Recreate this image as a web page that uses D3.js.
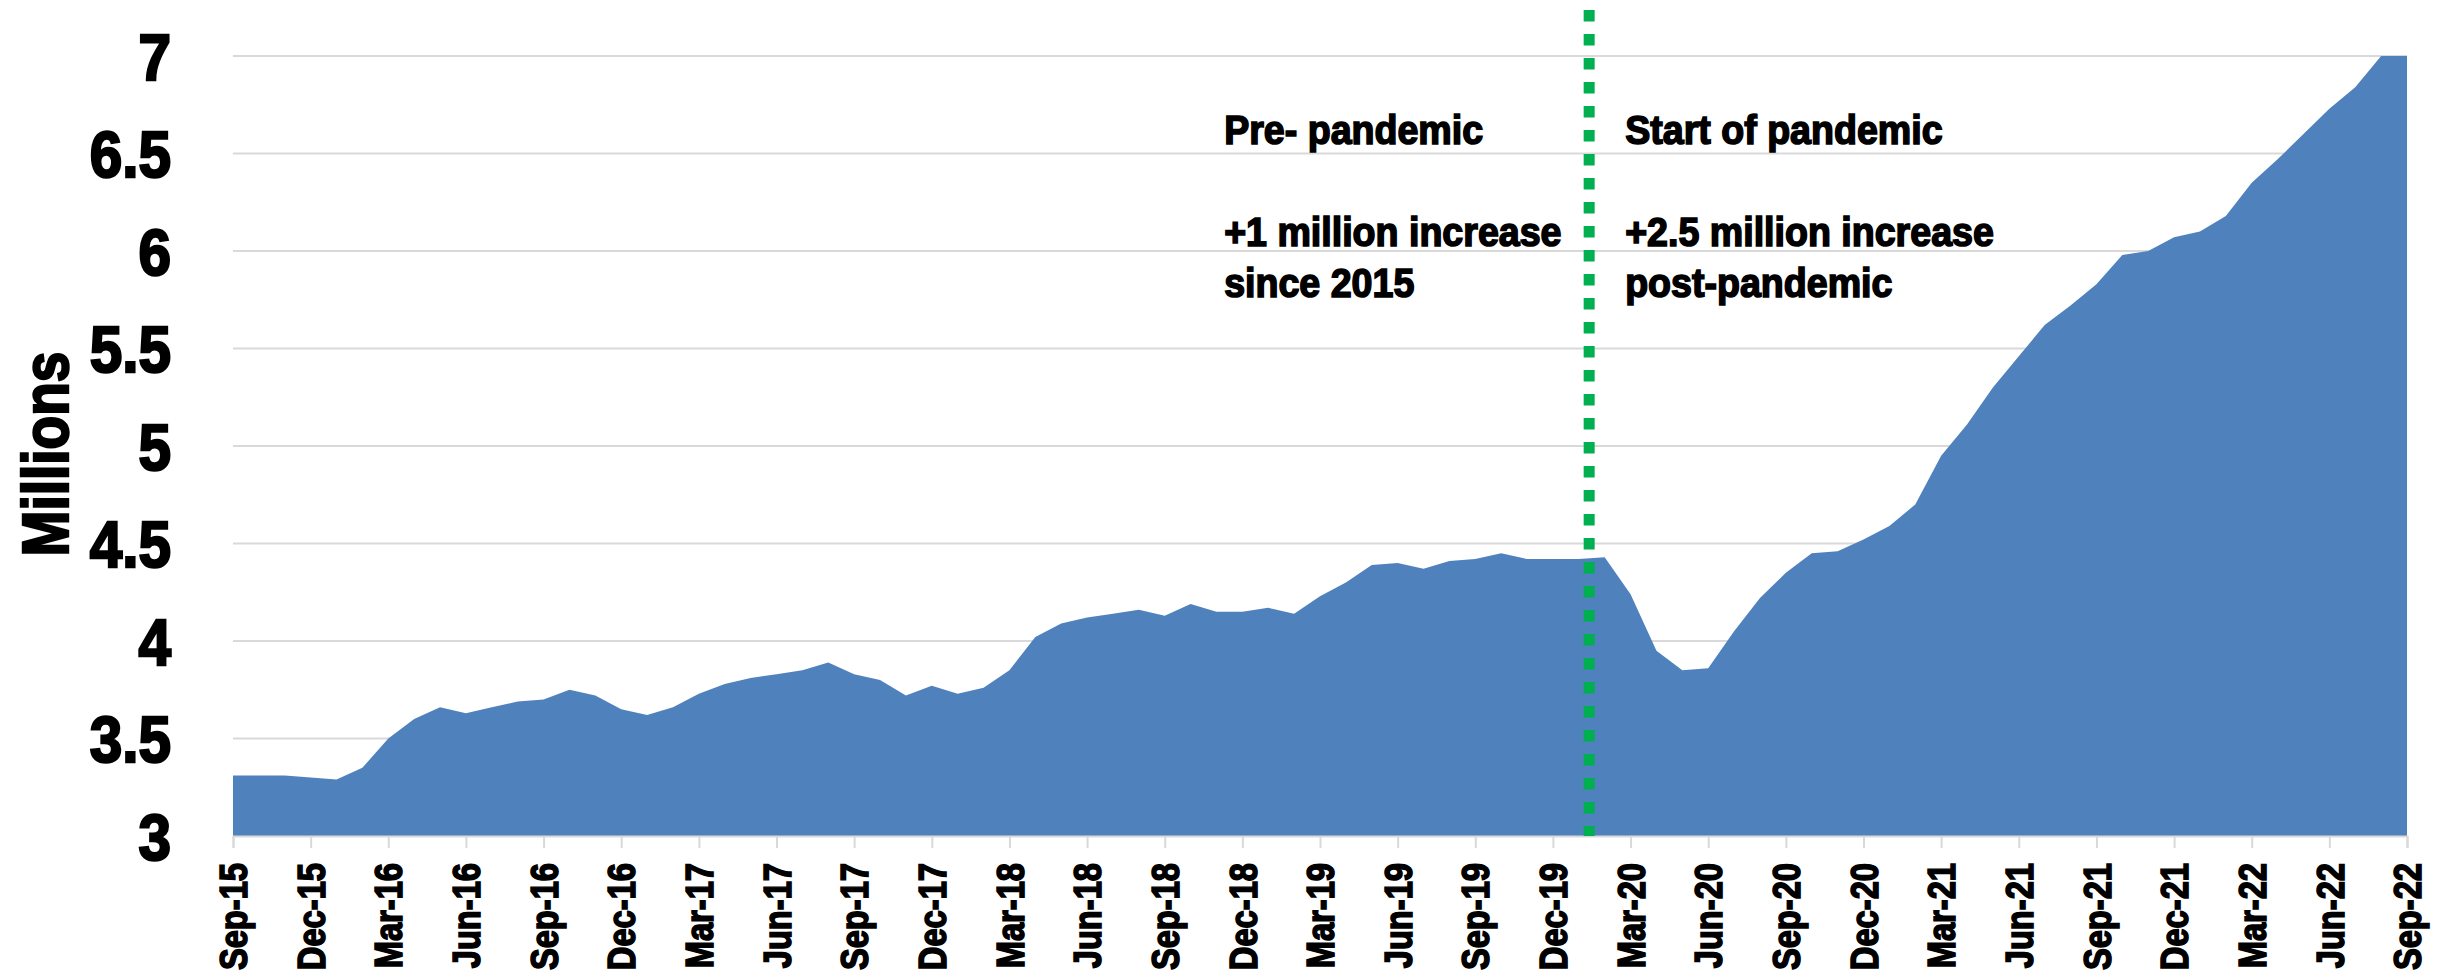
<!DOCTYPE html>
<html>
<head>
<meta charset="utf-8">
<script src="https://cdn.jsdelivr.net/npm/d3@7"></script>
<style>
  body { margin: 0; background: #fff; }
  text { font-family: "Liberation Sans", Arial, sans-serif; font-weight: bold; }
</style>
</head>
<body>
<svg width="2455" height="978"></svg>
<script>

// monthly values, Sep-15 .. Sep-22 (millions)
var values = [
  3.31, 3.31, 3.31, 3.30, 3.29, 3.35, 3.50, 3.60, 3.66, 3.63,
  3.66, 3.69, 3.70, 3.75, 3.72, 3.65, 3.62, 3.66, 3.73, 3.78,
  3.81, 3.83, 3.85, 3.89, 3.83, 3.80, 3.72, 3.77, 3.73, 3.76,
  3.85, 4.02, 4.09, 4.12, 4.14, 4.16, 4.13, 4.19, 4.15, 4.15,
  4.17, 4.14, 4.23, 4.30, 4.39, 4.40, 4.37, 4.41, 4.42, 4.45,
  4.42, 4.42, 4.42, 4.43, 4.24, 3.95, 3.85, 3.86, 4.05, 4.22,
  4.35, 4.45, 4.46, 4.52, 4.59, 4.70, 4.95, 5.11, 5.30, 5.46,
  5.62, 5.72, 5.83, 5.98, 6.00, 6.07, 6.10, 6.18, 6.35, 6.47,
  6.60, 6.73, 6.84, 7.00, 7.00
];

// one label every 3 months
var tickLabels = ["Sep-15", "Dec-15", "Mar-16", "Jun-16", "Sep-16", "Dec-16",
  "Mar-17", "Jun-17", "Sep-17", "Dec-17", "Mar-18", "Jun-18", "Sep-18", "Dec-18",
  "Mar-19", "Jun-19", "Sep-19", "Dec-19", "Mar-20", "Jun-20", "Sep-20", "Dec-20",
  "Mar-21", "Jun-21", "Sep-21", "Dec-21", "Mar-22", "Jun-22", "Sep-22"];

var yTicks = [3, 3.5, 4, 4.5, 5, 5.5, 6, 6.5, 7];

// months after Sep-15 where the pandemic line sits (mid Jan-20)
var pandemicStart = 52.4;

var notesBefore = ["Pre- pandemic", "", "+1 million increase", "since 2015"];
var notesAfter = ["Start of pandemic", "", "+2.5 million increase", "post-pandemic"];

var svg = d3.select("svg"),
    width = +svg.attr("width"),
    height = +svg.attr("height");

var margin = {top: 56, right: 48, bottom: 142, left: 233};

var x = d3.scaleLinear()
    .domain([0, values.length - 1])
    .range([margin.left, width - margin.right]);

var y = d3.scaleLinear()
    .domain([3, 7])
    .range([height - margin.bottom, margin.top]);

// gridlines
svg.append("g")
  .selectAll("line")
  .data(yTicks)
  .enter().append("line")
    .attr("x1", margin.left)
    .attr("x2", width - margin.right)
    .attr("y1", function(d) { return y(d); })
    .attr("y2", function(d) { return y(d); })
    .attr("stroke", "#d9d9d9")
    .attr("stroke-width", 2);

var area = d3.area()
    .x(function(d, i) { return x(i); })
    .y0(y(3))
    .y1(function(d) { return y(d); });

svg.append("path")
    .datum(values)
    .attr("fill", "#4f81bd")
    .attr("d", area);

// x axis, labels squeezed a bit to look like a condensed face
var xAxis = svg.append("g")
    .attr("transform", "translate(0," + y(3) + ")")
    .call(d3.axisBottom(x)
      .tickValues(d3.range(0, values.length, 3))
      .tickFormat(function(d, i) { return tickLabels[i]; })
      .tickSize(12));

xAxis.select(".domain")
    .attr("stroke", "#d9d9d9")
    .attr("stroke-width", 2);
xAxis.selectAll(".tick line")
    .attr("stroke", "#d9d9d9")
    .attr("stroke-width", 2);
xAxis.selectAll(".tick text")
    .attr("transform", "translate(0,27) rotate(-90) scale(0.86,1)")
    .attr("x", 0)
    .attr("y", 0)
    .attr("dy", "0.36em")
    .attr("text-anchor", "end")
    .attr("font-size", 38)
    .attr("fill", "#000")
    .attr("stroke", "#000")
    .attr("stroke-width", 1.6);

// y axis
var yAxis = svg.append("g")
    .attr("transform", "translate(" + margin.left + ",0)")
    .call(d3.axisLeft(y)
      .tickValues(yTicks)
      .tickFormat(d3.format(""))
      .tickSize(0));

yAxis.select(".domain").remove();
yAxis.selectAll(".tick text")
    .attr("transform", "translate(-62,0) scale(0.9,1)")
    .attr("x", 0)
    .attr("dy", "0.36em")
    .attr("font-size", 65)
    .attr("fill", "#000")
    .attr("stroke", "#000")
    .attr("stroke-width", 2.4);

svg.append("text")
    .attr("transform", "translate(45," + ((margin.top + height - margin.bottom) / 2 + 8) + ") rotate(-90) scale(0.86,1)")
    .attr("text-anchor", "middle")
    .attr("dy", "0.36em")
    .attr("font-size", 64)
    .attr("stroke", "#000")
    .attr("stroke-width", 2.4)
    .text("Millions");

// pandemic marker
svg.append("line")
    .attr("x1", x(pandemicStart))
    .attr("x2", x(pandemicStart))
    .attr("y1", 10)
    .attr("y2", y(3))
    .attr("stroke", "#00b050")
    .attr("stroke-width", 11)
    .attr("stroke-dasharray", "11.5,12.5");

function notes(lines, left) {
  svg.append("g")
    .selectAll("text")
    .data(lines)
    .enter().append("text")
      .attr("transform", function(d, i) {
        return "translate(" + left + "," + (144 + i * 51) + ") scale(0.94,1)";
      })
      .attr("font-size", 40)
      .attr("stroke", "#000")
      .attr("stroke-width", 1.6)
      .text(function(d) { return d; });
}

notes(notesBefore, x(pandemicStart) - 365);
notes(notesAfter, x(pandemicStart) + 36);

</script>
</body>
</html>
